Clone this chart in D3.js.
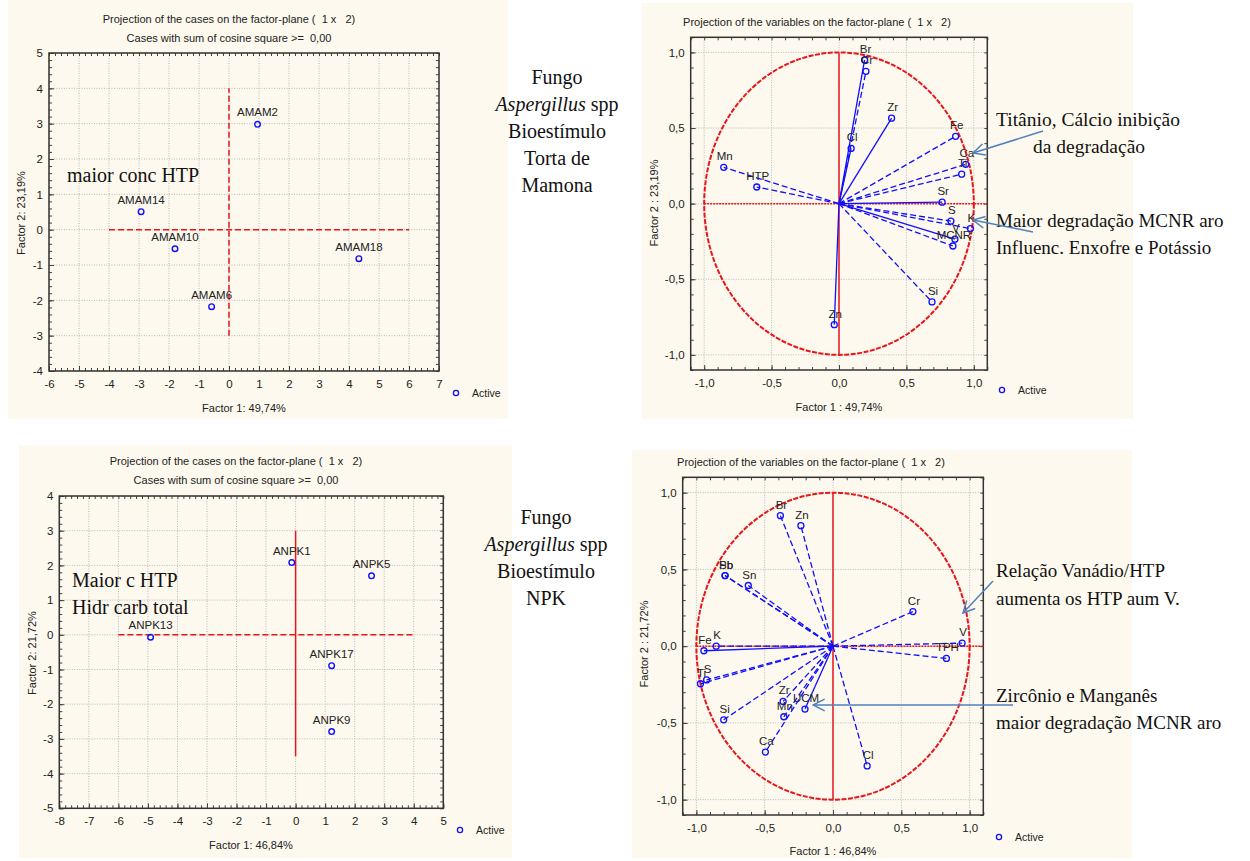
<!DOCTYPE html>
<html>
<head>
<meta charset="utf-8">
<script src="https://cdn.jsdelivr.net/npm/d3@7"></script>
<style>
  body { margin: 0; background: #fff; }
  text { font-family: "Liberation Sans", Arial, sans-serif; }
  .serif { font-family: "Liberation Serif", "Times New Roman", serif; fill: #111; }
</style>
</head>
<body>
<script>
'use strict';

/*global d3 */

// ---- data ----
const amamNames = ["AMAM2", "AMAM14", "AMAM10", "AMAM18", "AMAM6"];
const amamF1 = [0.95, -2.93, -1.80, 4.33, -0.58];
const amamF2 = [2.98, 0.51, -0.54, -0.82, -2.18];

const anpkNames = ["ANPK1", "ANPK5", "ANPK13", "ANPK17", "ANPK9"];
const anpkF1 = [-0.13, 2.57, -4.91, 1.22, 1.22];
const anpkF2 = [2.08, 1.70, -0.07, -0.89, -2.79];

const amamVarNames = ["Br", "Cr", "Zr", "Cl", "Fe", "Ca", "Ti", "Sr", "S", "K", "V", "MCNR", "Si", "Zn", "Mn", "HTP"];
const amamVarF1 = [0.19, 0.20, 0.39, 0.09, 0.865, 0.94, 0.91, 0.765, 0.83, 0.975, 0.86, 0.845, 0.69, -0.035, -0.855, -0.61];
const amamVarF2 = [0.95, 0.875, 0.565, 0.365, 0.445, 0.26, 0.195, 0.01, -0.115, -0.165, -0.235, -0.28, -0.65, -0.80, 0.24, 0.11];

const npkVarNames = ["Br", "Zn", "Pb", "Sb", "Sn", "Cr", "V", "TPH", "Fe", "K", "Ti", "S", "Si", "Zr", "Mn", "UCM", "Ca", "Cl"];
const npkVarF1 = [-0.385, -0.235, -0.79, -0.79, -0.62, 0.585, 0.945, 0.83, -0.945, -0.855, -0.97, -0.925, -0.80, -0.365, -0.36, -0.205, -0.495, 0.25];
const npkVarF2 = [0.85, 0.785, 0.46, 0.46, 0.395, 0.225, 0.02, -0.08, -0.03, 0.0, -0.245, -0.22, -0.48, -0.36, -0.46, -0.41, -0.69, -0.78];

// tick values
const amamTicksX = [-6, -5, -4, -3, -2, -1, 0, 1, 2, 3, 4, 5, 6, 7];
const amamTicksY = [-4, -3, -2, -1, 0, 1, 2, 3, 4, 5];
const anpkTicksX = [-8, -7, -6, -5, -4, -3, -2, -1, 0, 1, 2, 3, 4, 5];
const anpkTicksY = [-5, -4, -3, -2, -1, 0, 1, 2, 3, 4];
const varTicks = [-1.0, -0.5, 0.0, 0.5, 1.0];

// which vectors are drawn solid (the rest dashed)
const amamSolid = ["Zr", "Cl", "Sr", "Zn", "V", "Br"];
const npkSolid = ["Fe", "UCM"];

const RED = "#e8161b";
const BLUE = "#1010ff";
const ARROW = "#4f81bd";
const CREAM = "#fdf9ee";

const locale = d3.formatLocale({decimal: ",", thousands: ".", grouping: [3], currency: ["", ""], minus: "-"});
const fmtInt = locale.format("d");
const fmtDec = locale.format(".1f");

const svg = d3.select("body").append("svg")
    .attr("width", 1250)
    .attr("height", 861);

// cream panel backgrounds
[[8, 0, 500, 419], [642, 3, 491, 416], [19, 445, 493, 413], [632, 450, 500, 408]]
  .forEach(function(r) {
    svg.append("rect").attr("x", r[0]).attr("y", r[1]).attr("width", r[2]).attr("height", r[3])
      .attr("fill", CREAM);
  });

svg.append("defs").append("marker")
    .attr("id", "arrowhead")
    .attr("viewBox", "0 0 12 12")
    .attr("refX", 11).attr("refY", 6)
    .attr("markerWidth", 14).attr("markerHeight", 14)
    .attr("markerUnits", "userSpaceOnUse")
    .attr("orient", "auto")
  .append("path")
    .attr("d", "M1,1 L11,6 L1,11")
    .attr("fill", "none")
    .attr("stroke", ARROW)
    .attr("stroke-width", 1.3);

/**
 * Draws the frame, grid, ticks and titles of one STATISTICA-like plot.
 */
function drawFrame(p) {
  const g = svg.append("g");
  const x = p.x, y = p.y;
  const xl = x.range()[0], xr = x.range()[1];
  const yb = y.range()[0], yt = y.range()[1];

  // dotted grid
  g.append("g").selectAll("line").data(p.xTicks).join("line")
    .attr("x1", d => x(d)).attr("x2", d => x(d)).attr("y1", yt).attr("y2", yb)
    .attr("stroke", "#b8b8b8").attr("stroke-dasharray", "1,1.5");
  g.append("g").selectAll("line").data(p.yTicks).join("line")
    .attr("y1", d => y(d)).attr("y2", d => y(d)).attr("x1", xl).attr("x2", xr)
    .attr("stroke", "#b8b8b8").attr("stroke-dasharray", "1,1.5");

  // minor ticks on all four sides
  const mx = d3.ticks(x.domain()[0], x.domain()[1], p.minorX);
  const my = d3.ticks(y.domain()[0], y.domain()[1], p.minorY);
  const minor = function(axis, tr) {
    g.append("g").attr("transform", tr)
      .call(axis.tickSizeInner(-3).tickSizeOuter(0).tickFormat(""))
      .call(s => s.select(".domain").remove())
      .selectAll("line").attr("stroke", "#444");
  };
  minor(d3.axisBottom(x).tickValues(mx), "translate(0," + yb + ")");
  minor(d3.axisTop(x).tickValues(mx), "translate(0," + yt + ")");
  minor(d3.axisLeft(y).tickValues(my), "translate(" + xl + ",0)");
  minor(d3.axisRight(y).tickValues(my), "translate(" + xr + ",0)");

  // major ticks with labels
  const fmt = p.fmt;
  g.append("g").attr("transform", "translate(0," + yb + ")")
    .call(d3.axisBottom(x).tickValues(p.xTicks).tickFormat(fmt).tickSizeInner(-5).tickSizeOuter(0).tickPadding(9))
    .call(s => s.select(".domain").remove())
    .call(s => s.selectAll("text").attr("font-size", 11.5).attr("fill", "#222").attr("font-family", "Liberation Sans, Arial, sans-serif"))
    .selectAll("line").attr("stroke", "#444");
  g.append("g").attr("transform", "translate(" + xl + ",0)")
    .call(d3.axisLeft(y).tickValues(p.yTicks).tickFormat(fmt).tickSizeInner(-5).tickSizeOuter(0).tickPadding(6))
    .call(s => s.select(".domain").remove())
    .call(s => s.selectAll("text").attr("font-size", 11.5).attr("fill", "#222").attr("font-family", "Liberation Sans, Arial, sans-serif"))
    .selectAll("line").attr("stroke", "#444");

  g.append("rect")
    .attr("x", xl).attr("y", yt).attr("width", xr - xl).attr("height", yb - yt)
    .attr("fill", "none").attr("stroke", "#333").attr("stroke-width", 1.5);

  // titles (keep the doubled spaces of the original)
  p.titles.forEach(function(t) {
    g.append("text").attr("x", t[0]).attr("y", t[1]).attr("text-anchor", "middle")
      .style("white-space", "pre")
      .attr("font-size", 11).attr("fill", "#222").text(t[2]);
  });
  g.append("text").attr("x", p.xTitle[0]).attr("y", p.xTitle[1]).attr("text-anchor", "middle")
    .attr("font-size", 11).attr("fill", "#222").text(p.xTitle[2]);
  g.append("text")
    .attr("transform", "translate(" + p.yTitle[0] + "," + p.yTitle[1] + ") rotate(-90)")
    .attr("text-anchor", "middle").attr("font-size", 11).attr("fill", "#222").text(p.yTitle[2]);

  // legend
  g.append("circle").attr("cx", p.legend[0]).attr("cy", p.legend[1]).attr("r", 2.6)
    .attr("fill", "none").attr("stroke", BLUE).attr("stroke-width", 1.3);
  g.append("text").attr("x", p.legend[0] + 16).attr("y", p.legend[1] + 4)
    .attr("font-size", 10.5).attr("fill", "#222").text("Active");
  return g;
}

function drawCases(p, names, f1, f2) {
  const g = drawFrame(p);
  const x = p.x, y = p.y;
  // red reference lines
  g.append("line").attr("x1", x(p.hLine[0])).attr("x2", x(p.hLine[1])).attr("y1", y(0)).attr("y2", y(0))
    .attr("stroke", RED).attr("stroke-width", 1.5).attr("stroke-dasharray", p.hDash);
  g.append("line").attr("x1", x(0)).attr("x2", x(0)).attr("y1", y(p.vLine[0])).attr("y2", y(p.vLine[1]))
    .attr("stroke", RED).attr("stroke-width", 1.5).attr("stroke-dasharray", p.vDash);

  const pts = g.append("g").selectAll("g").data(names).join("g");
  pts.append("circle")
    .attr("cx", (d, i) => x(f1[i])).attr("cy", (d, i) => y(f2[i])).attr("r", 2.8)
    .attr("fill", "none").attr("stroke", BLUE).attr("stroke-width", 1.4);
  pts.append("text")
    .attr("x", (d, i) => x(f1[i])).attr("y", (d, i) => y(f2[i]) - 8)
    .attr("text-anchor", "middle").attr("font-size", 11.5).attr("fill", "#222")
    .text(d => d);
}

function drawVariables(p, names, f1, f2, solid) {
  const g = drawFrame(p);
  const x = p.x, y = p.y;
  g.append("ellipse")
    .attr("cx", x(0)).attr("cy", y(0)).attr("rx", x(1) - x(0)).attr("ry", y(0) - y(1))
    .attr("fill", "none").attr("stroke", RED).attr("stroke-width", 2).attr("stroke-dasharray", "5,1.5");
  g.append("line").attr("x1", x(-1)).attr("x2", x(1.1)).attr("y1", y(0)).attr("y2", y(0))
    .attr("stroke", RED).attr("stroke-width", 1.5).attr("stroke-dasharray", "2,1");
  g.append("line").attr("x1", x(0)).attr("x2", x(0)).attr("y1", y(1)).attr("y2", y(-1))
    .attr("stroke", RED).attr("stroke-width", 1.5);

  const v = g.append("g").selectAll("g").data(names).join("g");
  v.append("line")
    .attr("x1", x(0)).attr("y1", y(0))
    .attr("x2", (d, i) => x(f1[i])).attr("y2", (d, i) => y(f2[i]))
    .attr("stroke", BLUE).attr("stroke-width", 1.3)
    .attr("stroke-dasharray", d => solid.indexOf(d) >= 0 ? null : "6,3");
  v.append("circle")
    .attr("cx", (d, i) => x(f1[i])).attr("cy", (d, i) => y(f2[i])).attr("r", 3)
    .attr("fill", "none").attr("stroke", BLUE).attr("stroke-width", 1.3);
  v.append("text")
    .attr("x", (d, i) => x(f1[i]) + 1).attr("y", (d, i) => y(f2[i]) - 7)
    .attr("text-anchor", "middle").attr("font-size", 11.5).attr("fill", "#222")
    .text(d => d);
}

function serifLines(lines, x, y0, step, size, anchor) {
  lines.forEach(function(l, i) {
    const t = svg.append("text").attr("class", "serif")
      .attr("x", x).attr("y", y0 + i * step)
      .attr("font-size", size).attr("text-anchor", anchor || "start");
    l.forEach(function(part) {
      t.append("tspan").attr("font-style", part[1] ? "italic" : null).text(part[0]);
    });
  });
}

function arrow(a, b) {
  svg.append("line").attr("x1", a[0]).attr("y1", a[1]).attr("x2", b[0]).attr("y2", b[1])
    .attr("stroke", ARROW).attr("stroke-width", 1.5).attr("marker-end", "url(#arrowhead)");
}

// ---- top left: cases, Torta de Mamona ----
drawCases({
  x: d3.scaleLinear().domain([-6, 7]).range([49, 439]),
  y: d3.scaleLinear().domain([-4, 5]).range([371, 53]),
  xTicks: amamTicksX, yTicks: amamTicksY, minorX: 65, minorY: 45, fmt: fmtInt,
  titles: [[229, 23, "Projection of the cases on the factor-plane (  1 x   2)"],
           [229, 42, "Cases with sum of cosine square >=  0,00"]],
  xTitle: [244, 412, "Factor 1: 49,74%"],
  yTitle: [25, 213, "Factor 2: 23,19%"],
  legend: [456, 393],
  hLine: [-4, 6], vLine: [-3, 4], hDash: "6,3", vDash: "6,3"
}, amamNames, amamF1, amamF2);

// ---- bottom left: cases, NPK ----
drawCases({
  x: d3.scaleLinear().domain([-8, 5]).range([59.3, 443.3]),
  y: d3.scaleLinear().domain([-5, 4]).range([808.3, 496]),
  xTicks: anpkTicksX, yTicks: anpkTicksY, minorX: 65, minorY: 45, fmt: fmtInt,
  titles: [[236, 465, "Projection of the cases on the factor-plane (  1 x   2)"],
           [236, 484, "Cases with sum of cosine square >=  0,00"]],
  xTitle: [251, 849, "Factor 1: 46,84%"],
  yTitle: [36, 653, "Factor 2: 21,72%"],
  legend: [460, 830],
  hLine: [-6, 4], vLine: [-3.5, 3], hDash: "6,3", vDash: null
}, anpkNames, anpkF1, anpkF2);

// ---- top right: variables, Torta de Mamona ----
drawVariables({
  x: d3.scaleLinear().domain([-1.1, 1.1]).range([690.7, 987.3]),
  y: d3.scaleLinear().domain([-1.1, 1.1]).range([370, 37.3]),
  xTicks: varTicks, yTicks: varTicks, minorX: 22, minorY: 22, fmt: fmtDec,
  titles: [[817, 26, "Projection of the variables on the factor-plane (  1 x   2)"]],
  xTitle: [839, 411, "Factor 1 : 49,74%"],
  yTitle: [658, 203, "Factor 2 : 23,19%"],
  legend: [1002, 390]
}, amamVarNames, amamVarF1, amamVarF2, amamSolid);

// ---- bottom right: variables, NPK ----
drawVariables({
  x: d3.scaleLinear().domain([-1.1, 1.1]).range([682.7, 983.3]),
  y: d3.scaleLinear().domain([-1.1, 1.1]).range([815, 477.3]),
  xTicks: varTicks, yTicks: varTicks, minorX: 22, minorY: 22, fmt: fmtDec,
  titles: [[811, 466, "Projection of the variables on the factor-plane (  1 x   2)"]],
  xTitle: [833, 855, "Factor 1 : 46,84%"],
  yTitle: [648, 644, "Factor 2 : 21,72%"],
  legend: [999, 837]
}, npkVarNames, npkVarF1, npkVarF2, npkSolid);

// ---- text annotations ----
serifLines([[["maior conc HTP"]]], 67, 182, 0, 20);
serifLines([[["Maior c HTP"]], [["Hidr carb total"]]], 72, 587, 27, 20);

serifLines([[["Fungo"]], [["Aspergillus", true], [" spp"]], [["Bioestímulo"]], [["Torta de"]], [["Mamona"]]],
  557, 84, 27, 20, "middle");
serifLines([[["Fungo"]], [["Aspergillus", true], [" spp"]], [["Bioestímulo"]], [["NPK"]]],
  546, 524, 27, 20, "middle");

serifLines([[["Titânio, Cálcio inibição"]]], 996, 126, 0, 19.5);
serifLines([[["da degradação"]]], 1033, 153, 0, 19.5);
serifLines([[["Maior degradação MCNR aro"]], [["Influenc. Enxofre e Potássio"]]], 996, 227, 27, 19);
serifLines([[["Relação Vanádio/HTP"]], [["aumenta os HTP aum V."]]], 996, 577, 28, 19);
serifLines([[["Zircônio e Manganês"]], [["maior degradação MCNR aro"]]], 996, 702, 27, 19);

arrow([1043, 131], [973, 153]);
arrow([1033, 232], [973, 220]);
arrow([993, 581], [963, 613]);
arrow([1013, 705], [813, 705]);
</script>
</body>
</html>
